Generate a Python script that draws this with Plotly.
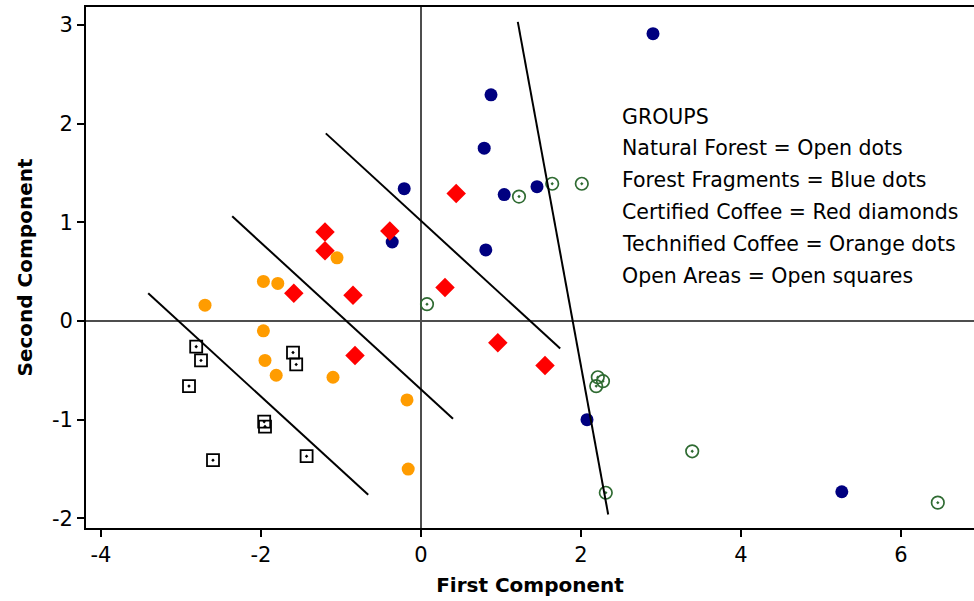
import plotly.graph_objects as go

# PCA scores by land-use group (first component, second component)
natural_forest_x = [1.225, 1.64, 2.01, 0.075, 2.21, 2.275, 2.19, 2.31, 3.39, 6.46]
natural_forest_y = [1.26, 1.39, 1.39, 0.17, -0.57, -0.61, -0.66, -1.74, -1.32, -1.84]

forest_fragments_x = [2.9, 0.875, 0.79, -0.21, 1.04, 1.45, -0.36, 0.81, 2.075, 5.26]
forest_fragments_y = [2.91, 2.29, 1.75, 1.34, 1.28, 1.36, 0.80, 0.72, -1.00, -1.73]

certified_coffee_x = [0.44, -1.2, -1.2, -0.39, -1.59, -0.85, 0.3, 0.96, -0.825, 1.55]
certified_coffee_y = [1.29, 0.90, 0.71, 0.91, 0.28, 0.26, 0.34, -0.22, -0.35, -0.45]

technified_coffee_x = [-1.05, -1.97, -1.79, -2.70, -1.97, -1.95, -1.81, -1.1, -0.175, -0.16]
technified_coffee_y = [0.64, 0.40, 0.38, 0.16, -0.10, -0.40, -0.55, -0.57, -0.80, -1.50]

open_areas_x = [-2.81, -2.75, -2.9, -1.6, -1.56, -1.96, -1.95, -2.6, -1.43]
open_areas_y = [-0.26, -0.40, -0.66, -0.32, -0.44, -1.02, -1.07, -1.41, -1.37]

# hand-drawn group separators: (x0, y0, x1, y1)
separators = [
    (-3.41, 0.28, -0.66, -1.76),
    (-2.36, 1.06, 0.40, -0.99),
    (-1.19, 1.90, 1.74, -0.28),
    (1.21, 3.03, 2.34, -1.96),
]

legend_lines = [
    "GROUPS",
    "Natural Forest = Open dots",
    "Forest Fragments = Blue dots",
    "Certified Coffee = Red diamonds",
    "Technified Coffee = Orange dots",
    "Open Areas = Open squares",
]

x_ticks = [-4, -2, 0, 2, 4, 6]
y_ticks = [-2, -1, 0, 1, 2, 3]

FONT = "DejaVu Sans"

fig = go.Figure()

fig.add_trace(go.Scatter(
    x=forest_fragments_x, y=forest_fragments_y, mode="markers",
    marker=dict(symbol="circle", size=13, color="#000080"),
    name="Forest Fragments"))
fig.add_trace(go.Scatter(
    x=certified_coffee_x, y=certified_coffee_y, mode="markers",
    marker=dict(symbol="diamond", size=15, color="#ff0000"),
    name="Certified Coffee"))
fig.add_trace(go.Scatter(
    x=technified_coffee_x, y=technified_coffee_y, mode="markers",
    marker=dict(symbol="circle", size=13, color="#ff9c00"),
    name="Technified Coffee"))
fig.add_trace(go.Scatter(
    x=natural_forest_x, y=natural_forest_y, mode="markers",
    marker=dict(symbol="circle-open-dot", size=12.5, color="#2f6b32",
                line=dict(width=1.7, color="#2f6b32")),
    name="Natural Forest"))
fig.add_trace(go.Scatter(
    x=open_areas_x, y=open_areas_y, mode="markers",
    marker=dict(symbol="square-open-dot", size=12, color="#000000",
                line=dict(width=1.8, color="#000000")),
    name="Open Areas"))

for x0, y0, x1, y1 in separators:
    fig.add_shape(type="line", xref="x", yref="y", x0=x0, y0=y0, x1=x1, y1=y1,
                  line=dict(color="black", width=2))

line_top = 2.07
line_step = 0.322
for i, txt in enumerate(legend_lines):
    fig.add_annotation(x=2.49, y=line_top - i * line_step, xref="x", yref="y",
                       text=txt, showarrow=False, xanchor="left", yanchor="middle",
                       font=dict(family=FONT, size=20.5, color="black"))

fig.update_layout(
    width=974, height=601,
    margin=dict(l=86, r=0, t=7, b=73),
    plot_bgcolor="white", paper_bgcolor="white",
    showlegend=False,
    font=dict(family=FONT, color="black"),
)

fig.update_xaxes(
    range=[-4.1875, 6.9125], tickvals=x_ticks, ticktext=[str(v) for v in x_ticks],
    showgrid=False, zeroline=True, zerolinecolor="#4d4d4d", zerolinewidth=1.5,
    showline=True, linecolor="black", linewidth=1.7, mirror=True,
    ticks="outside", ticklen=7, tickwidth=1.5, tickcolor="black",
    tickfont=dict(family=FONT, size=21),
    title=dict(text="<b>First Component</b>", font=dict(family=FONT, size=20), standoff=12),
)
fig.update_yaxes(
    range=[-2.097, 3.18], tickvals=y_ticks, ticktext=[str(v) for v in y_ticks],
    showgrid=False, zeroline=True, zerolinecolor="#4d4d4d", zerolinewidth=1.5,
    showline=True, linecolor="black", linewidth=1.7, mirror=False,
    ticks="outside", ticklen=7, tickwidth=1.5, tickcolor="black",
    tickfont=dict(family=FONT, size=21),
    title=dict(text="<b>Second Component</b>", font=dict(family=FONT, size=20), standoff=14),
)

fig.write_html("out.html")
